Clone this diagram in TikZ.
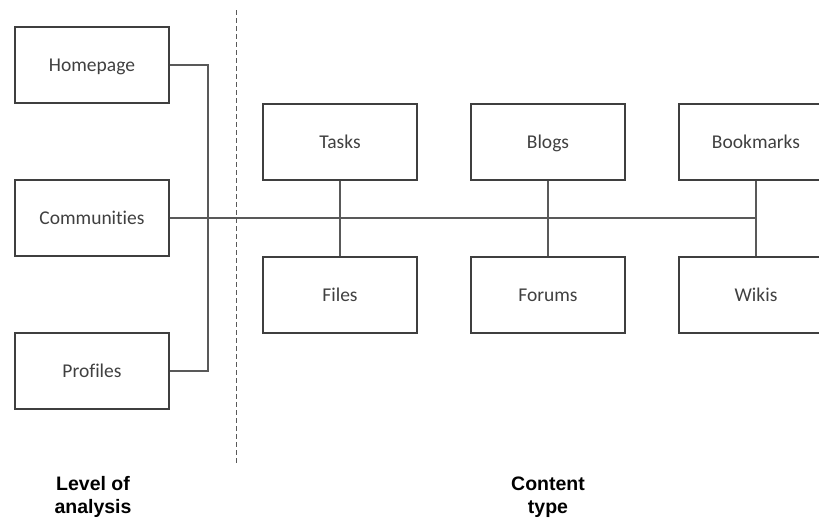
\documentclass[tikz,border=0pt]{standalone}
\usepackage{fontspec}
\setmainfont{Carlito}[Ligatures={NoCommon}]
\newfontfamily\labelfont{Liberation Sans}
\definecolor{boxline}{HTML}{3F3F3F}
\definecolor{linkline}{HTML}{595959}
\definecolor{boxtext}{HTML}{404040}
\begin{document}
\begin{tikzpicture}[x=1pt,y=-1pt,
  itembox/.style={draw=boxline,line width=1.3pt,minimum width=154pt,minimum height=76pt,
    inner sep=0pt,text height=12.6pt,text depth=0pt,text=boxtext,font=\fontsize{19.5}{22}\selectfont},
  link/.style={draw=linkline,line width=1.4pt},
  axislabel/.style={font=\labelfont\bfseries\fontsize{19.5}{23}\selectfont,align=center,text=black}]
\useasboundingbox (0,0) rectangle (819,520);
\begin{scope}
\clip (0,0) rectangle (819,520);
% left column: level of analysis
\node[itembox] (home) at (92,65) {Homepage};
\node[itembox] (comm) at (92,218) {Communities};
\node[itembox] (prof) at (92,371) {Profiles};
% right block: content types
\node[itembox] (tasks) at (340,142) {Tasks};
\node[itembox] (files) at (340,295) {Files};
\node[itembox] (blogs) at (548,142) {Blogs};
\node[itembox] (forums) at (548,295) {Forums};
\node[itembox] (bmarks) at (756,142) {Bookmarks};
\node[itembox] (wikis) at (756,295) {Wikis};
% bracket joining the three levels
\coordinate (jt) at (208,65);
\coordinate (jb) at (208,371);
\draw[link] (home.east) -- (jt) -- (jb) -- (prof.east);
% main spine
\coordinate (spineend) at (bmarks.south |- comm.east);
\draw[link] (comm.east) -- (spineend);
\draw[link] (tasks.south) -- (files.north);
\draw[link] (blogs.south) -- (forums.north);
\draw[link] (bmarks.south) -- (wikis.north);
% divider
\coordinate (dtop) at (236,10);
\coordinate (dbot) at (236,465);
\draw[draw=linkline,line width=1pt,dash pattern=on 5pt off 3pt] (dtop) -- (dbot);
\end{scope}
\node[axislabel] (lvl) at (93,497) {Level of\\analysis};
\node[axislabel] (ctype) at (548,497) {Content\\type};
\end{tikzpicture}
\end{document}
